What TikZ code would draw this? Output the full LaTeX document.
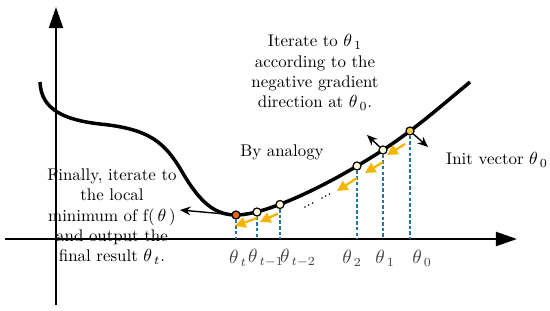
\documentclass[tikz,border=0pt]{standalone}
\usepackage{amsmath, amssymb}
\usepackage{tikz}
\usepackage{xcolor}
\usetikzlibrary{arrows.meta}

\definecolor{gradorange}{RGB}{245,180,0}
\definecolor{dropblue}{RGB}{30,120,150}
\definecolor{minorange}{RGB}{225,100,20}
\definecolor{ptcream}{RGB}{255,250,215}
\definecolor{ptyellow}{RGB}{245,200,80}

\begin{document}
\begin{tikzpicture}[
  font=\fontsize{9.6}{11.6}\selectfont,
  pt/.style={circle, draw, line width=0.7pt, fill=ptcream, inner sep=0pt, minimum size=4.6pt},
  drop/.style={dropblue, dash pattern=on 2pt off 1.2pt, line width=0.8pt},
  grad/.style={gradorange, line width=1.3pt, -{Triangle[length=6pt,width=6pt]}},
  dir/.style={line width=0.8pt, -{Stealth[length=6pt,width=5pt]}},
  lab/.style={text=black!75, font=\fontsize{10.5}{12}\selectfont}
]
\useasboundingbox (0,0) rectangle (11,6.2);

% Axes
\coordinate (ax) at (0,1.42);
\draw[line width=1.1pt, -{Triangle[length=12pt,width=8pt]}] (0.1,1.42) -- (10.34,1.42);
\draw[line width=1.1pt, -{Triangle[length=12pt,width=8pt]}] (1.12,0.1) -- (1.12,6.06);

% Cost curve f(theta)
\draw[line width=2pt] (0.8,4.56) .. controls (0.82,4.0) and (1.3,3.8) .. (2.0,3.72)
  .. controls (3.0,3.62) and (3.3,3.35) .. (3.65,2.75)
  .. controls (4.0,2.15) and (4.3,1.9) .. (4.72,1.9)
  .. controls (5.3,1.9) and (6.5,2.45) .. (7.66,3.2)
  .. controls (8.3,3.62) and (8.8,4.06) .. (9.4,4.56);

% Iterates on the curve
\node[pt, fill=ptyellow] (th0) at (8.2,3.58) {};
\node[pt] (th1) at (7.66,3.2) {};
\node[pt] (th2) at (7.14,2.88) {};
\node[pt] (thm2) at (5.6,2.11) {};
\node[pt] (thm1) at (5.14,1.96) {};
\node[pt, fill=minorange] (tht) at (4.72,1.9) {};

% Drops to the theta axis
\foreach \p in {th0,th1,th2,thm2,thm1,tht}
  \draw[drop] (\p.south) -- (\p |- ax);

% Omitted iterates
\coordinate (dotsa) at (6.1,2.06);
\coordinate (dotsb) at (6.44,2.24);
\foreach \c in {dotsa,dotsb}
  \foreach \s in {0,1,2}
    \fill ([shift={(\s*0.075,\s*0.04)}]\c) circle (0.55pt);

% Negative gradient steps
\draw[grad] ([shift={(-0.1,-0.26)}]th0.center) -- ([shift={(0.08,-0.1)}]th1.center);
\draw[grad] ([shift={(0,-0.24)}]th1.center) -- ([shift={(0.16,-0.14)}]th2.center);
\draw[grad] ([shift={(0,-0.24)}]th2.center) -- ([shift={(-0.4,-0.5)}]th2.center);
\draw[grad] ([shift={(-0.04,-0.18)}]thm2.center) -- ([shift={(0.06,-0.2)}]thm1.center);
\draw[grad] ([shift={(0,-0.12)}]thm1.center) -- ([shift={(-0.02,-0.22)}]tht.center);

% Gradient directions
\draw[dir] (th0) -- ([shift={(0.36,-0.32)}]th0.center);
\draw[dir] (th1) -- ([shift={(-0.32,0.3)}]th1.center);

% Texts
\node[align=center] (iter) at (6.3,4.75) {Iterate to $\theta_{\,1}$\\according to the\\negative gradient\\direction at $\theta_{\,0}$.};
\node (analogy) at (5.64,3.16) {By analogy};
\node (init) at (9.94,3.0) {Init vector $\theta_{\,0}$};
\node[align=center] (final) at (2.24,1.87) {Finally, iterate to\\the local\\minimum of f($\,\theta\,$)\\and output the\\final result $\theta_{\,t}$.};
\draw[dir] (tht) -- ([shift={(-1.12,0.1)}]tht.center);

% Axis labels
\node[lab] (lt) at (4.76,1.04) {$\theta_{\,t}$};
\node[lab] (ltm1) at (5.32,1.04) {$\theta_{\,t-1}$};
\node[lab] (ltm2) at (5.96,1.04) {$\theta_{\,t-2}$};
\node[lab] (l2) at (7.04,1.04) {$\theta_{\,2}$};
\node[lab] (l1) at (7.7,1.04) {$\theta_{\,1}$};
\node[lab] (l0) at (8.44,1.04) {$\theta_{\,0}$};
\end{tikzpicture}
\end{document}
